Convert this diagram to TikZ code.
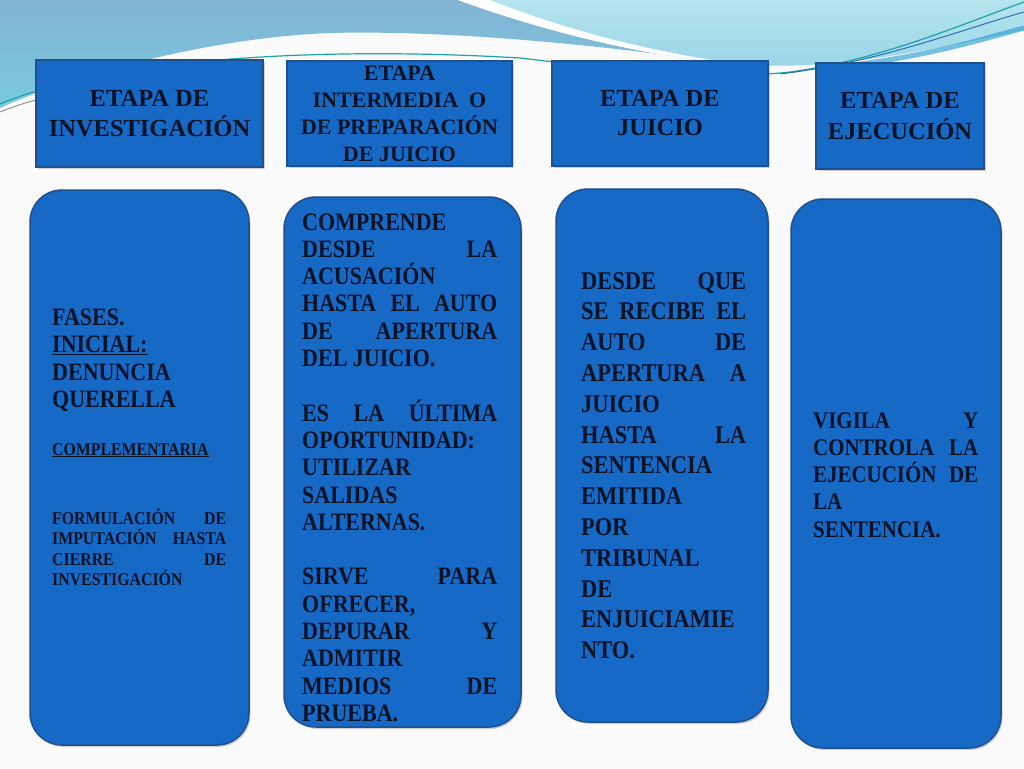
\documentclass[tikz,border=0pt]{standalone}
\usepackage{fontspec}
\setmainfont{Liberation Serif}
\newfontfamily\bodyf[FakeStretch=0.88]{Liberation Serif}
\usetikzlibrary{shadows}
\definecolor{boxblue}{HTML}{1769C6}
\definecolor{boxline}{HTML}{1F4F8C}
\definecolor{ink}{HTML}{0A1226}
\definecolor{wavetop}{HTML}{83B3D4}
\definecolor{wavebot}{HTML}{78CADF}
\definecolor{cyantop}{HTML}{B5E4EC}
\definecolor{cyanbot}{HTML}{98D4E7}
\definecolor{tealline}{HTML}{1FA3A6}
\definecolor{darkline}{HTML}{2A6FB8}
\tikzset{
  head/.style={draw=boxline, line width=1.5pt, fill=boxblue,
    drop shadow={shadow xshift=1.5pt, shadow yshift=-2pt, opacity=0.35},
    text=ink, align=center, inner sep=0pt},
  pill/.style={draw=boxline, line width=1.5pt, fill=boxblue, rounded corners=32pt,
    drop shadow={shadow xshift=1.5pt, shadow yshift=-2pt, opacity=0.35}},
  btext/.style={text=ink, font=\bodyf\bfseries, inner sep=0pt, anchor=base west},
}
\newcommand\Ln[1]{\hbox to\hsize{#1\hfil}}
\begin{document}
\begin{tikzpicture}[x=1pt,y=-1pt]
\useasboundingbox (0,0) rectangle (1024,768);
\fill[white!96!gray] (0,0) rectangle (1024,768);
% top waves
\shade[top color=cyantop, bottom color=cyanbot]
  (490,0) -- (1024,0) -- (1024,30) .. controls (930,50) and (830,72) .. (740,64)
  .. controls (650,52) and (560,28) .. (490,0) -- cycle;
\shade[top color=wavetop, bottom color=wavebot]
  (0,0) -- (458,0) .. controls (540,30) and (640,55) .. (725,63)
  .. controls (600,45) and (450,30) .. (330,33)
  .. controls (200,38) and (60,80) .. (0,108) -- cycle;
\fill[white] (458,0) .. controls (540,30) and (640,55) .. (725,63)
  .. controls (640,50) and (560,28) .. (490,0) -- cycle;
\draw[tealline, line width=1.2pt] (0,104) .. controls (100,62) and (300,45) .. (520,58)
  .. controls (620,70) and (720,80) .. (790,72) .. controls (880,60) and (960,25) .. (1024,2);
\draw[gray, line width=0.8pt] (0,112) .. controls (15,106) and (30,101) .. (45,98);
\draw[darkline, line width=1pt] (780,74) .. controls (880,62) and (960,30) .. (1024,12);
\draw[darkline!70!cyan, line width=5pt, opacity=0.6] (860,64) .. controls (930,55) and (980,40) .. (1024,28);
% header boxes
\node[head, minimum width=227pt, minimum height=107pt,
  font=\fontsize{24.5}{30}\selectfont\bfseries] (h1) at (149.5,113.5) {ETAPA DE\\INVESTIGACIÓN};
\node[head, minimum width=225pt, minimum height=105pt,
  font=\fontsize{22}{27}\selectfont\bfseries] (h2) at (399.5,113.5) {ETAPA\\INTERMEDIA~ O\\DE PREPARACIÓN\\DE JUICIO};
\node[head, minimum width=216pt, minimum height=105pt,
  font=\fontsize{24.5}{29}\selectfont\bfseries] (h3) at (660,113.5) {ETAPA DE\\JUICIO};
\node[head, minimum width=168pt, minimum height=106pt,
  font=\fontsize{24.5}{31}\selectfont\bfseries] (h4) at (900,116) {ETAPA DE\\EJECUCIÓN};
% rounded boxes
\node[pill, minimum width=219pt, minimum height=555pt] (p1) at (139.5,467.5) {};
\node[pill, minimum width=237pt, minimum height=530pt] (p2) at (402.5,462) {};
\node[pill, minimum width=212pt, minimum height=533pt] (p3) at (662,455.5) {};
\node[pill, minimum width=210pt, minimum height=549pt] (p4) at (896,473.5) {};
% box 1 text
\node[btext] (t1a) at (52,325) {\vtop{\hsize=174pt \fontsize{25}{27.5}\selectfont
  \Ln{FASES.}
  \Ln{\underline{INICIAL:}}
  \Ln{DENUNCIA}
  \Ln{QUERELLA}}};
\node[btext] (t1b) at (52,455) {\vtop{\hsize=174pt \fontsize{18}{20}\selectfont
  \Ln{\underline{COMPLEMENTARIA}}}};
\node[btext] (t1c) at (52,524) {\vtop{\hsize=174pt \fontsize{18}{20.5}\selectfont
  \hbox to\hsize{FORMULACIÓN\hfill DE}
  \hbox to\hsize{IMPUTACIÓN\hfill HASTA}
  \hbox to\hsize{CIERRE\hfill DE}
  \Ln{INVESTIGACIÓN}}};
% box 2 text
\node[btext] (t2) at (302,230) {\vtop{\hsize=195pt \fontsize{25}{27.3}\selectfont
  \Ln{COMPRENDE}
  \hbox to\hsize{DESDE\hfill LA}
  \Ln{ACUSACIÓN}
  \hbox to\hsize{HASTA\hfill EL\hfill AUTO}
  \hbox to\hsize{DE\hfill APERTURA}
  \Ln{DEL JUICIO.}
  \hbox{}
  \hbox to\hsize{ES\hfill LA\hfill ÚLTIMA}
  \Ln{OPORTUNIDAD:}
  \Ln{UTILIZAR}
  \Ln{SALIDAS}
  \Ln{ALTERNAS.}
  \hbox{}
  \hbox to\hsize{SIRVE\hfill PARA}
  \Ln{OFRECER,}
  \hbox to\hsize{DEPURAR\hfill Y}
  \Ln{ADMITIR}
  \hbox to\hsize{MEDIOS\hfill DE}
  \Ln{PRUEBA.}}};
% box 3 text
\node[btext] (t3) at (581,289) {\vtop{\hsize=165pt \fontsize{25.5}{30.8}\selectfont
  \hbox to\hsize{DESDE\hfill QUE}
  \hbox to\hsize{SE\hfill RECIBE\hfill EL}
  \hbox to\hsize{AUTO\hfill DE}
  \hbox to\hsize{APERTURA\hfill A}
  \Ln{JUICIO}
  \hbox to\hsize{HASTA\hfill LA}
  \Ln{SENTENCIA}
  \Ln{EMITIDA}
  \Ln{POR}
  \Ln{TRIBUNAL}
  \Ln{DE}
  \Ln{ENJUICIAMIE}
  \Ln{NTO.}}};
% box 4 text
\node[btext] (t4) at (813,428) {\vtop{\hsize=165pt \fontsize{23.8}{27.3}\selectfont
  \hbox to\hsize{VIGILA\hfill Y}
  \hbox to\hsize{CONTROLA\hfill LA}
  \hbox to\hsize{EJECUCIÓN\hfill DE}
  \Ln{LA}
  \Ln{SENTENCIA.}}};
\end{tikzpicture}
\end{document}
